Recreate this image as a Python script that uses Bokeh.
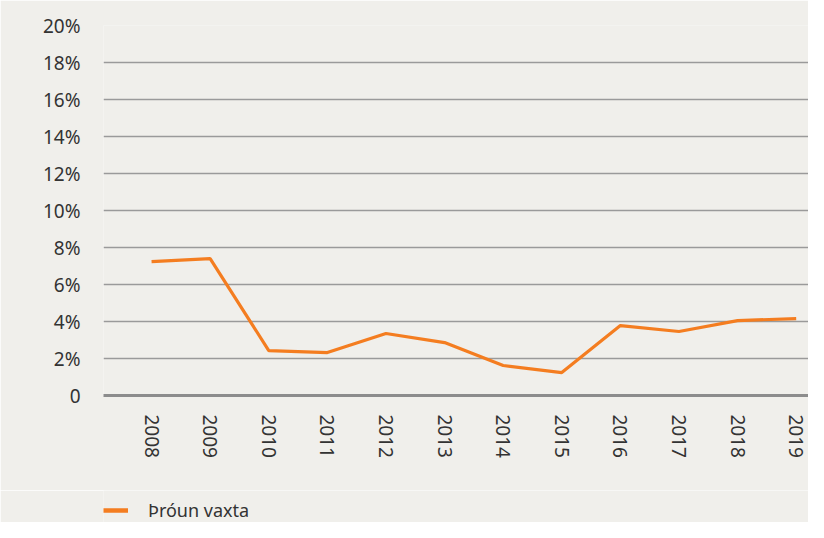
import math
from bokeh.plotting import figure
from bokeh.layouts import column
from bokeh.models import FixedTicker, Legend, LegendItem, Range1d
from bokeh.embed import file_html
from bokeh.resources import INLINE

years = [2008, 2009, 2010, 2011, 2012, 2013, 2014, 2015, 2016, 2017, 2018, 2019]
rates = [7.24, 7.4, 2.43, 2.32, 3.35, 2.86, 1.62, 1.24, 3.78, 3.46, 4.05, 4.16]
y_ticks = [0, 2, 4, 6, 8, 10, 12, 14, 16, 18, 20]
y_tick_labels = ["0", "2%", "4%", "6%", "8%", "10%", "12%", "14%", "16%", "18%", "20%"]
series_name = "Þróun vaxta"

bg = "#f0efeb"
orange = "#f47d20"
text_col = "#333333"
font = "Noto Sans"

p = figure(width=808, height=490, output_backend="svg", toolbar_location=None,
           x_range=Range1d(2007.18, 2019.21), y_range=Range1d(0, 20),
           min_border_left=103, min_border_right=0, min_border_top=25, min_border_bottom=95,
           background_fill_color=bg, border_fill_color=bg)
p.outline_line_color = None

p.xgrid.visible = False
p.ygrid.ticker = FixedTicker(ticks=y_ticks)
p.ygrid.grid_line_color = "#9a9a9a"
p.ygrid.grid_line_width = 1.3

p.yaxis.ticker = FixedTicker(ticks=y_ticks)
p.yaxis.major_label_overrides = {t: l for t, l in zip(y_ticks, y_tick_labels)}
p.yaxis.axis_line_color = None
p.yaxis.major_tick_line_color = None
p.yaxis.minor_tick_line_color = None
p.yaxis.major_label_standoff = 17
p.yaxis.major_label_text_font = font
p.yaxis.major_label_text_font_size = "19px"
p.yaxis.major_label_text_color = text_col

p.xaxis.ticker = FixedTicker(ticks=years)
p.xaxis.axis_line_color = "#8c8c8c"
p.xaxis.axis_line_width = 3
p.xaxis.major_tick_line_color = None
p.xaxis.minor_tick_line_color = None
p.xaxis.major_label_orientation = -math.pi / 2
p.xaxis.major_label_standoff = 13
p.xaxis.major_label_text_font = font
p.xaxis.major_label_text_font_size = "19px"
p.xaxis.major_label_text_color = text_col

p.line(years, rates, line_color=orange, line_width=3.2)

# Legend strip underneath the chart
p2 = figure(width=808, height=32, output_backend="svg", toolbar_location=None,
            x_range=Range1d(0, 1), y_range=Range1d(0, 1), min_border=0,
            x_axis_location=None, y_axis_location=None,
            background_fill_color=bg, border_fill_color=bg)
p2.outline_line_color = None
p2.grid.visible = False
r2 = p2.line(years, rates, line_color=orange, line_width=4.5)

legend = Legend(items=[LegendItem(label=series_name, renderers=[r2])],
                location=(0, 0), padding=0, margin=0,
                background_fill_alpha=0, border_line_color=None,
                glyph_width=25, label_standoff=20,
                label_text_font=font, label_text_font_size="18px",
                label_text_color=text_col)
p2.add_layout(legend, "center")

open("out.html", "w").write(file_html(column(p, p2, spacing=0), INLINE))
